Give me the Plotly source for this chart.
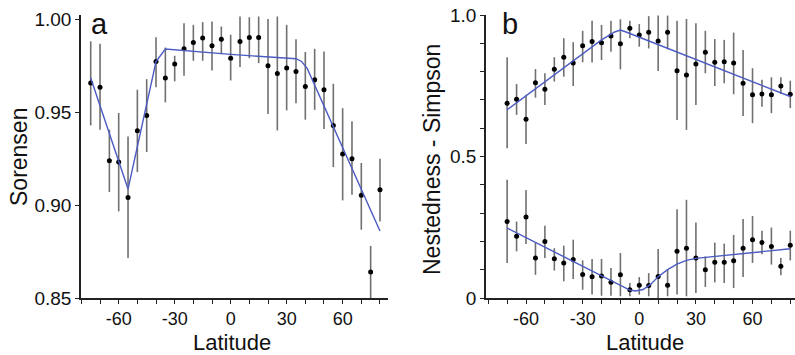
import plotly.graph_objects as go

# ---------------- Panel a : Sorensen ----------------
lat_a = [-75, -70, -65, -60, -55, -50, -45, -40, -35, -30, -25, -20, -15, -10, -5, 0,
         5, 10, 15, 20, 25, 30, 35, 40, 45, 50, 55, 60, 65, 70, 75, 80]
sor_val = [0.9656, 0.9634, 0.9238, 0.9231, 0.904, 0.940, 0.9482, 0.9772, 0.9683, 0.9758,
           0.984, 0.9874, 0.9898, 0.9856, 0.9892, 0.979, 0.988, 0.9901, 0.9901, 0.9749,
           0.9708, 0.9737, 0.9718, 0.9638, 0.9674, 0.962, 0.9428, 0.9274, 0.9249, 0.9052,
           0.864, 0.9082]
sor_lo = [0.9428, 0.9405, 0.907, 0.8966, 0.8715, 0.9177, 0.9285, 0.9634, 0.9552, 0.9665,
          0.9695, 0.9776, 0.9776, 0.9724, 0.9817, 0.967, 0.9742, 0.979, 0.9763, 0.949,
          0.9401, 0.9509, 0.9548, 0.9459, 0.9512, 0.9409, 0.9204, 0.9025, 0.9055, 0.8867,
          0.850, 0.8912]
sor_hi = [0.988, 0.9867, 0.9405, 0.9495, 0.9369, 0.962, 0.9677, 0.9903, 0.9847, 0.9803,
          0.9978, 0.9969, 0.9984, 0.9987, 0.996, 0.9916, 1.0014, 1.001, 1.0014, 1.0,
          1.0014, 0.9969, 0.9892, 0.9823, 0.984, 0.9826, 0.9652, 0.9521, 0.945, 0.9226,
          0.878, 0.9249]
fit_a_lat = [-75, -55, -40, -35, 0, 35, 38, 41, 80]
fit_a_val = [0.9683, 0.9086, 0.9772, 0.9839, 0.981, 0.9787, 0.9772, 0.9735, 0.886]

# ---------------- Panel b : Nestedness / Simpson ----------------
lat_b = [-70, -65, -60, -55, -50, -45, -40, -35, -30, -25, -20, -15, -10, -5, 0,
         5, 10, 15, 20, 25, 30, 35, 40, 45, 50, 55, 60, 65, 70, 75, 80]
simp_val = [0.688, 0.702, 0.632, 0.761, 0.738, 0.808, 0.851, 0.830, 0.891, 0.906, 0.902,
            0.926, 0.898, 0.953, 0.929, 0.939, 0.908, 0.939, 0.803, 0.788, 0.827, 0.868,
            0.833, 0.835, 0.830, 0.759, 0.718, 0.721, 0.718, 0.749, 0.720]
simp_lo = [0.529, 0.647, 0.544, 0.708, 0.682, 0.765, 0.782, 0.749, 0.833, 0.832, 0.841,
           0.870, 0.808, 0.918, 0.888, 0.882, 0.802, 0.879, 0.629, 0.594, 0.682, 0.794,
           0.749, 0.759, 0.720, 0.643, 0.618, 0.676, 0.653, 0.721, 0.671]
simp_hi = [0.851, 0.756, 0.718, 0.809, 0.794, 0.851, 0.918, 0.904, 0.944, 0.980, 0.965,
           0.980, 0.985, 0.980, 0.968, 0.996, 0.998, 0.998, 0.980, 0.986, 0.971, 0.944,
           0.915, 0.912, 0.938, 0.876, 0.812, 0.771, 0.780, 0.780, 0.768]
fit_simp_lat = [-70, -20, -13, -10, -7, 80]
fit_simp_val = [0.665, 0.912, 0.940, 0.947, 0.940, 0.712]

nest_val = [0.270, 0.218, 0.286, 0.141, 0.200, 0.139, 0.124, 0.136, 0.083, 0.075, 0.078,
            0.056, 0.082, 0.029, 0.045, 0.044, 0.076, 0.045, 0.165, 0.176, 0.141, 0.100,
            0.126, 0.126, 0.132, 0.176, 0.206, 0.196, 0.182, 0.112, 0.186]
nest_lo = [0.124, 0.165, 0.191, 0.082, 0.141, 0.097, 0.059, 0.067, 0.029, 0.012, 0.008,
           0.008, 0.006, 0.006, 0.012, 0.006, 0.0, 0.006, 0.012, 0.006, 0.018, 0.039,
           0.055, 0.053, 0.035, 0.074, 0.124, 0.155, 0.118, 0.080, 0.133]
nest_hi = [0.418, 0.270, 0.382, 0.196, 0.255, 0.176, 0.185, 0.206, 0.133, 0.138, 0.138,
           0.106, 0.159, 0.053, 0.074, 0.088, 0.173, 0.100, 0.314, 0.347, 0.267, 0.147,
           0.196, 0.192, 0.223, 0.279, 0.290, 0.238, 0.249, 0.141, 0.238]
fit_nest_lat = [-70, -5, -2, 2, 6, 10, 15, 20, 25, 30, 80]
fit_nest_val = [0.247, 0.028, 0.025, 0.030, 0.048, 0.075, 0.100, 0.120, 0.133, 0.140, 0.174]

x_ticks = [-60, -30, 0, 30, 60]

FONT = "Liberation Sans, Arial, sans-serif"
BAR_C = "#707070"
LINE_C = "#4b5bc2"
AX_C = "#222222"

W, H = 795, 355
TOP, BOT = 15, 57
PLOT_H = H - TOP - BOT


def points(x, v, lo, hi, xa, ya):
    return go.Scatter(
        x=x, y=v, mode="markers", xaxis=xa, yaxis=ya, showlegend=False,
        marker=dict(color="black", size=5),
        error_y=dict(type="data", symmetric=False,
                     array=[h - m for h, m in zip(hi, v)],
                     arrayminus=[m - l for l, m in zip(lo, v)],
                     color=BAR_C, thickness=1.6, width=0),
    )


def fit(x, v, xa, ya):
    return go.Scatter(x=x, y=v, mode="lines", xaxis=xa, yaxis=ya, showlegend=False,
                      line=dict(color=LINE_C, width=1.4))


fig = go.Figure()
fig.add_trace(points(lat_a, sor_val, sor_lo, sor_hi, "x", "y"))
fig.add_trace(fit(fit_a_lat, fit_a_val, "x", "y"))
fig.add_trace(points(lat_b, simp_val, simp_lo, simp_hi, "x2", "y2"))
fig.add_trace(fit(fit_simp_lat, fit_simp_val, "x2", "y2"))
fig.add_trace(points(lat_b, nest_val, nest_lo, nest_hi, "x2", "y2"))
fig.add_trace(fit(fit_nest_lat, fit_nest_val, "x2", "y2"))

xcommon = dict(showline=True, linecolor=AX_C, linewidth=1.6, ticks="outside", ticklen=4,
               tickcolor=AX_C, tickwidth=1.2, showgrid=False, zeroline=False,
               automargin=False,
               tickvals=x_ticks, ticktext=[str(t) for t in x_ticks],
               tickfont=dict(family=FONT, size=18, color="#111"),
               minor=dict(tick0=0, dtick=10, ticks="outside", ticklen=4,
                          tickcolor=AX_C, tickwidth=1.2, showgrid=False))
ycommon = dict(showline=True, linecolor=AX_C, linewidth=1.6, ticks="outside", ticklen=4,
               tickcolor=AX_C, tickwidth=1.2, showgrid=False, zeroline=False,
               automargin=False,
               tickfont=dict(family=FONT, size=19, color="#111"))

fig.update_layout(
    width=W, height=H,
    margin=dict(l=0, r=0, t=TOP, b=BOT, autoexpand=False),
    paper_bgcolor="white", plot_bgcolor="white",
    xaxis=dict(domain=[81 / W, 388 / W], range=[-80.2, 84.3], anchor="y", **xcommon),
    yaxis=dict(domain=[0, 1], range=[0.85, 1.0022], anchor="x",
               tickvals=[0.85, 0.90, 0.95, 1.00],
               ticktext=["0.85", "0.90", "0.95", "1.00"], **ycommon),
    xaxis2=dict(domain=[486 / W, 1.0], range=[-81.2, 82.5], anchor="y2", **xcommon),
    yaxis2=dict(domain=[0, 1], range=[0, 1.0], anchor="x2",
                tickvals=[0, 0.5, 1.0], ticktext=["0", "0.5", "1.0"],
                minor=dict(dtick=0.1, ticks="outside", ticklen=4, tickcolor=AX_C,
                           tickwidth=1.2, showgrid=False),
                **ycommon),
)


def px_ann(text, x, y, size, angle=0):
    # convert page pixels to paper coordinates (paper spans the area inside margins)
    fig.add_annotation(text=text, x=x / W, y=(H - BOT - y) / PLOT_H,
                       xref="paper", yref="paper",
                       showarrow=False, textangle=angle, xanchor="center", yanchor="middle",
                       font=dict(family=FONT, size=size, color="#111"))


px_ann("a", 99, 24, 29)
px_ann("b", 510, 24, 29)
px_ann("Sorensen", 19, 157, 23, -90)
px_ann("Nestedness - Simpson", 432, 160, 23, -90)
px_ann("Latitude", 232, 342, 22)
px_ann("Latitude", 645, 342, 22)

fig.write_html("out.html",
               config={"displayModeBar": False},
               post_script="document.body.style.margin='0';document.body.style.padding='0';")
